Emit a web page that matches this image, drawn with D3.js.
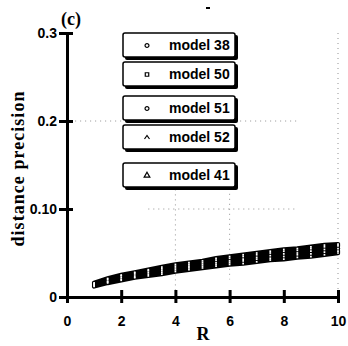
<!DOCTYPE html>
<meta charset="utf-8">
<head>
<script src="https://d3js.org/d3.v7.min.js"></script>
<style>
  body { margin: 0; background: #fff; }
  svg { display: block; }
</style>
</head>
<body>
<div id="chart"></div>
<script>
// data
var rValues = [1, 1.5, 2, 2.5, 3, 3.5, 4, 4.5, 5, 5.5, 6, 6.5, 7, 7.5, 8, 8.5, 9, 9.5, 10];
var model38 = [0.016,0.021,0.025,0.028,0.031,0.034,0.037,0.039,0.041,0.044,0.046,0.048,0.050,0.052,0.054,0.055,0.057,0.059,0.060];
var model50 = [0.015,0.020,0.024,0.027,0.030,0.032,0.035,0.037,0.039,0.042,0.044,0.046,0.048,0.050,0.052,0.053,0.055,0.057,0.058];
var model51 = [0.014,0.018,0.022,0.025,0.028,0.030,0.033,0.035,0.037,0.039,0.041,0.043,0.045,0.047,0.049,0.050,0.052,0.054,0.055];
var model52 = [0.013,0.017,0.020,0.023,0.026,0.028,0.031,0.033,0.035,0.037,0.039,0.041,0.043,0.044,0.046,0.048,0.049,0.051,0.052];
var model41 = [0.012,0.016,0.019,0.022,0.024,0.026,0.029,0.031,0.033,0.035,0.037,0.038,0.040,0.042,0.043,0.045,0.046,0.048,0.050];

var seriesNames = ["model 38", "model 50", "model 51", "model 52", "model 41"];
var seriesValues = [model38, model50, model51, model52, model41];
var seriesSymbols = [d3.symbolCircle, d3.symbolSquare, d3.symbolCircle, "caret", d3.symbolTriangle];

var xTicks = [0, 2, 4, 6, 8, 10];
var yTicks = [0, 0.1, 0.2, 0.3];
var yTickLabels = ["0", "0.10", "0.2", "0.3"];

var width = 348, height = 346;

var svg = d3.select("#chart").append("svg")
    .attr("width", width)
    .attr("height", height);

var x = d3.scaleLinear().domain([0, 10]).range([67, 338]);
var y = d3.scaleLinear().domain([0, 0.3]).range([297, 33]);

// faint dotted grid (scan remnants)
var grid = svg.append("g")
    .attr("stroke", "#777")
    .attr("stroke-width", 0.8)
    .attr("stroke-dasharray", "1,4");
grid.append("line").attr("x1", x(4)).attr("x2", x(4)).attr("y1", y(0.145)).attr("y2", y(0));
grid.append("line").attr("x1", x(6)).attr("x2", x(6)).attr("y1", y(0.14)).attr("y2", y(0.02));
grid.append("line").attr("x1", x(10)).attr("x2", x(10)).attr("y1", y(0.3)).attr("y2", y(0));
grid.append("line").attr("x1", x(0.3)).attr("x2", x(8.5)).attr("y1", y(0.2)).attr("y2", y(0.2));
grid.append("line").attr("x1", x(3)).attr("x2", x(8.5)).attr("y1", y(0.1)).attr("y2", y(0.1));

// axes
var xAxis = svg.append("g")
    .attr("transform", "translate(0," + y(0) + ")")
    .call(d3.axisBottom(x).tickValues(xTicks).tickSize(6).tickPadding(13).tickSizeOuter(0));
xAxis.select(".domain").style("stroke", "#000").style("stroke-width", "3px");
xAxis.selectAll(".tick line")
    .attr("y1", -7).attr("y2", 6)
    .style("stroke", "#000").style("stroke-width", "3px");
xAxis.selectAll(".tick text")
    .attr("font-family", "Liberation Sans, Arial, sans-serif")
    .attr("font-weight", "bold")
    .attr("font-size", 14);

var yAxis = svg.append("g")
    .attr("transform", "translate(" + x(0) + ",0)")
    .call(d3.axisLeft(y).tickValues(yTicks).tickSize(8).tickPadding(2).tickSizeOuter(0)
        .tickFormat(function(d, i) { return yTickLabels[i]; }));
yAxis.select(".domain").style("stroke", "#000").style("stroke-width", "3px");
yAxis.selectAll(".tick line")
    .attr("x1", -8).attr("x2", 6)
    .style("stroke", "#000").style("stroke-width", "3px");
yAxis.selectAll(".tick text")
    .attr("font-family", "Liberation Sans, Arial, sans-serif")
    .attr("font-weight", "bold")
    .attr("font-size", 14);

// series: thick black lines with white markers
var line = d3.line()
    .x(function(d) { return x(d[0]); })
    .y(function(d) { return y(d[1]); });

function symbolPath(s, size) {
  if (s === "caret") return "M-2.5,1.5L0,-2L2.5,1.5";
  return d3.symbol().type(s).size(size)();
}

seriesValues.forEach(function(vals) {
  var pts = rValues.map(function(r, i) { return [r, vals[i]]; });
  svg.append("path")
      .datum(pts)
      .attr("fill", "none")
      .attr("stroke", "#000")
      .attr("stroke-width", 4.5)
      .attr("stroke-linecap", "round")
      .attr("d", line);
});
seriesValues.forEach(function(vals) {
  var pts = rValues.map(function(r, i) { return [r, vals[i]]; });
  svg.append("g").selectAll("path")
      .data(pts)
      .enter().append("path")
      .attr("transform", function(d) { return "translate(" + x(d[0]) + "," + y(d[1]) + ")"; })
      .attr("d", symbolPath(d3.symbolSquare, 3))
      .attr("fill", "#fff");
});

// legend boxes
var legendTop = [33, 62, 96, 125, 163];
var legend = svg.append("g");
seriesNames.forEach(function(name, i) {
  var g = legend.append("g").attr("transform", "translate(123," + legendTop[i] + ")");
  g.append("rect")
      .attr("x", 2).attr("y", 2)
      .attr("width", 113).attr("height", 25)
      .attr("rx", 2)
      .attr("fill", "#000");
  g.append("rect")
      .attr("x", 0).attr("y", 0)
      .attr("width", 112).attr("height", 24)
      .attr("rx", 2)
      .attr("fill", "#fff")
      .attr("stroke", "#000")
      .attr("stroke-width", 1.5);
  var sym = seriesSymbols[i];
  g.append("path")
      .attr("transform", "translate(24,12.5)")
      .attr("d", symbolPath(sym, sym === d3.symbolTriangle ? 14 : 12))
      .attr("fill", "none")
      .attr("stroke", "#000")
      .attr("stroke-width", 1.2);
  g.append("text")
      .attr("x", 46).attr("y", 17)
      .attr("font-family", "Liberation Sans, Arial, sans-serif")
      .attr("font-weight", "bold")
      .attr("font-size", 14)
      .text(name);
});

// labels
svg.append("text")
    .attr("x", 61).attr("y", 25)
    .attr("font-family", "Liberation Serif, Times New Roman, serif")
    .attr("font-weight", "bold")
    .attr("font-size", 18)
    .text("(c)");

svg.append("text")
    .attr("x", 203).attr("y", 340)
    .attr("text-anchor", "middle")
    .attr("font-family", "Liberation Serif, Times New Roman, serif")
    .attr("font-weight", "bold")
    .attr("font-size", 18)
    .text("R");

svg.append("text")
    .attr("transform", "translate(24,169) rotate(-90)")
    .attr("text-anchor", "middle")
    .attr("font-family", "Liberation Serif, Times New Roman, serif")
    .attr("font-weight", "bold")
    .attr("font-size", 18)
    .attr("textLength", 155)
    .attr("lengthAdjust", "spacing")
    .text("distance precision");

// small mark at top
svg.append("line")
    .attr("x1", 206).attr("x2", 210).attr("y1", 8).attr("y2", 8)
    .attr("stroke", "#000").attr("stroke-width", 2);
</script>
</body>
</html>
